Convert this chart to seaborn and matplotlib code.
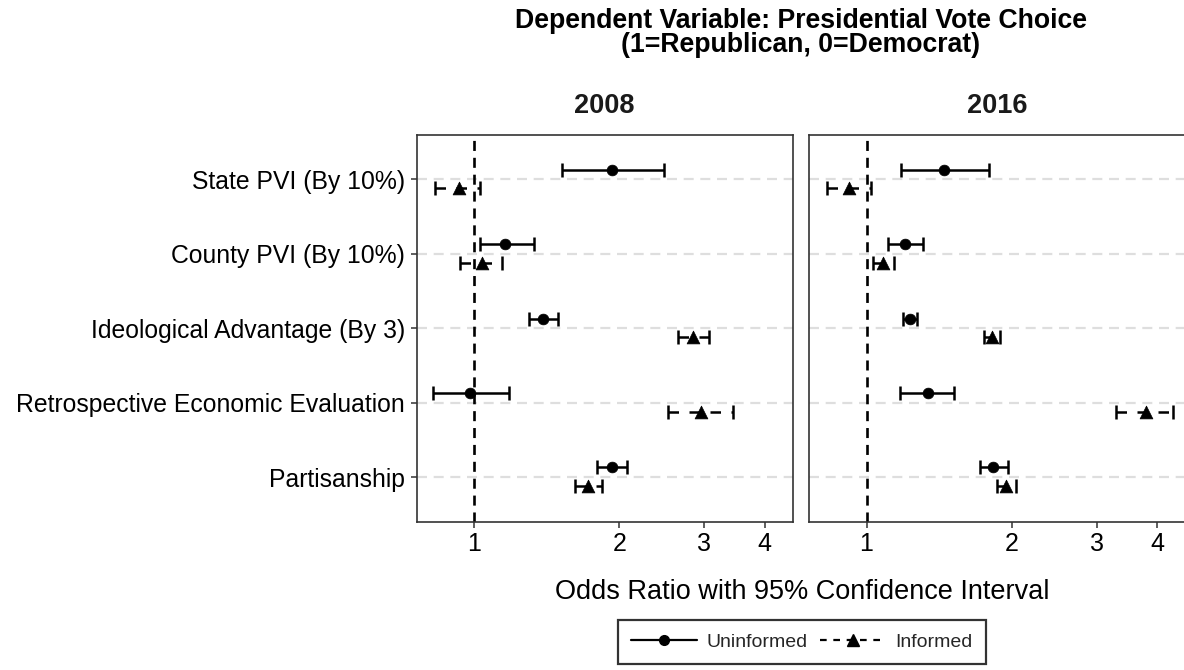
import numpy as np
import pandas as pd
import matplotlib
matplotlib.use("Agg")
import matplotlib.pyplot as plt
from matplotlib.lines import Line2D
from matplotlib.ticker import FixedLocator, FixedFormatter, NullLocator
import seaborn as sns

# ---- data: odds ratios with 95% confidence bounds ----
categories = [
    "State PVI (By 10%)",
    "County PVI (By 10%)",
    "Ideological Advantage (By 3)",
    "Retrospective Economic Evaluation",
    "Partisanship",
]
years = ["2008", "2016"]
groups = ["Uninformed", "Informed"]

or_uninf_2008 = [1.93, 1.16, 1.39, 0.98, 1.93]
lo_uninf_2008 = [1.52, 1.03, 1.30, 0.82, 1.80]
hi_uninf_2008 = [2.47, 1.33, 1.49, 1.18, 2.07]
or_inf_2008 = [0.93, 1.04, 2.84, 2.95, 1.72]
lo_inf_2008 = [0.83, 0.935, 2.64, 2.52, 1.62]
hi_inf_2008 = [1.03, 1.14, 3.06, 3.44, 1.84]

or_uninf_2016 = [1.45, 1.20, 1.23, 1.34, 1.83]
lo_uninf_2016 = [1.18, 1.11, 1.19, 1.175, 1.72]
hi_uninf_2016 = [1.79, 1.31, 1.27, 1.52, 1.96]
or_inf_2016 = [0.92, 1.08, 1.82, 3.79, 1.95]
lo_inf_2016 = [0.83, 1.03, 1.75, 3.29, 1.86]
hi_inf_2016 = [1.02, 1.14, 1.89, 4.31, 2.04]

x_ticks = [1, 2, 3, 4]
x_tick_labels = ["1", "2", "3", "4"]

# ---- long table ----
series = {
    ("2008", "Uninformed"): (or_uninf_2008, lo_uninf_2008, hi_uninf_2008),
    ("2008", "Informed"): (or_inf_2008, lo_inf_2008, hi_inf_2008),
    ("2016", "Uninformed"): (or_uninf_2016, lo_uninf_2016, hi_uninf_2016),
    ("2016", "Informed"): (or_inf_2016, lo_inf_2016, hi_inf_2016),
}
rows = []
for (yr, grp), (est, lo, hi) in series.items():
    for i, cat in enumerate(categories):
        rows.append(dict(year=yr, group=grp, term=cat, idx=i,
                         est=est[i], lo=lo[i], hi=hi[i]))
df = pd.DataFrame(rows)
dodge = {"Uninformed": -0.13, "Informed": 0.12}
df["ypos"] = df["idx"] + df["group"].map(dodge)

# ---- style ----
sns.set_theme(style="white")
plt.rcParams["font.family"] = ["Liberation Sans", "DejaVu Sans"]
frame_col = "#333333"

W, H = 1184, 670
fig = plt.figure(figsize=(W / 100, H / 100), dpi=100)

panel_w = 376 / W
panel_h = 387 / H
bottom = 1 - 521.7 / H
lefts = [416.7 / W, 809 / W]
axes = [fig.add_axes([l, bottom, panel_w, panel_h]) for l in lefts]

markers = {"Uninformed": "o", "Informed": "^"}
sizes = {"Uninformed": 60, "Informed": 85}
lstyles = {"Uninformed": "solid", "Informed": (0, (4.2, 4.2))}

for ax, yr in zip(axes, years):
    ax.set_xscale("log")
    ax.set_xlim(0.76, 4.57)
    ax.set_ylim(len(categories) - 1 + 0.6, -0.6)

    # horizontal reference lines at each term
    for i in range(len(categories)):
        ax.axhline(i, color="#dedede", lw=1.6, ls=(0, (4.5, 3)), zorder=0)
    # null effect line
    ax.axvline(1, color="black", lw=1.9, ls=(0, (3.8, 2.6)), zorder=1)

    sub = df[df["year"] == yr]
    for grp in groups:
        g = sub[sub["group"] == grp]
        eb = ax.errorbar(g["est"], g["ypos"],
                         xerr=[g["est"] - g["lo"], g["hi"] - g["est"]],
                         fmt="none", ecolor="black", elinewidth=1.8,
                         capsize=5, capthick=1.8, zorder=2)
        for lc in eb.lines[2]:
            lc.set_linestyle(lstyles[grp])
        sns.scatterplot(data=g, x="est", y="ypos", marker=markers[grp],
                        s=sizes[grp], color="black", edgecolor="black",
                        linewidth=0.5, legend=False, ax=ax, zorder=3)

    ax.set_xlabel("")
    ax.set_ylabel("")
    ax.xaxis.set_major_locator(FixedLocator(x_ticks))
    ax.xaxis.set_major_formatter(FixedFormatter(x_tick_labels))
    ax.xaxis.set_minor_locator(NullLocator())
    ax.tick_params(axis="x", which="major", direction="out", length=4.5,
                   width=1.1, color=frame_col, labelsize=18, pad=3,
                   labelcolor="black", bottom=True)
    for s in ax.spines.values():
        s.set_color(frame_col)
        s.set_linewidth(1.2)
    ax.text(0.5, 1 + (134.7 - 106) / 387, yr, transform=ax.transAxes,
            ha="center", va="center", fontsize=19.5, fontweight="bold",
            color="#1a1a1a")

axes[0].set_yticks(range(len(categories)))
axes[0].set_yticklabels(categories)
axes[0].tick_params(axis="y", direction="out", length=4.5, width=1.1,
                    color=frame_col, labelsize=17.8, pad=4, left=True,
                    labelcolor="black")
axes[1].set_yticks(range(len(categories)))
axes[1].tick_params(axis="y", left=False, labelleft=False)

cx = (416.7 + 1185) / 2 / W
fig.text(cx, 1 - 8 / H,
         "Dependent Variable: Presidential Vote Choice\n(1=Republican, 0=Democrat)",
         ha="center", va="top", fontsize=19.2, fontweight="bold",
         linespacing=0.92, color="black")
fig.text(802 / W, 1 - 592 / H, "Odds Ratio with 95% Confidence Interval",
         ha="center", va="center", fontsize=19.5, color="black")

handles = [
    Line2D([], [], color="black", lw=1.6, ls="solid", marker="o",
           markersize=7),
    Line2D([], [], color="black", lw=1.6, ls=(0, (3, 3)), marker="^",
           markersize=8),
]
leg = fig.legend(handles, groups, loc="center", ncol=2,
                 bbox_to_anchor=(802 / W, 1 - 642 / H), fontsize=14,
                 frameon=True, fancybox=False, handlelength=3.4,
                 handletextpad=0.5, columnspacing=0.6, borderpad=0.7)
leg.get_frame().set_edgecolor("black")
leg.get_frame().set_linewidth(1.6)

fig.savefig("out.png", dpi=100)
